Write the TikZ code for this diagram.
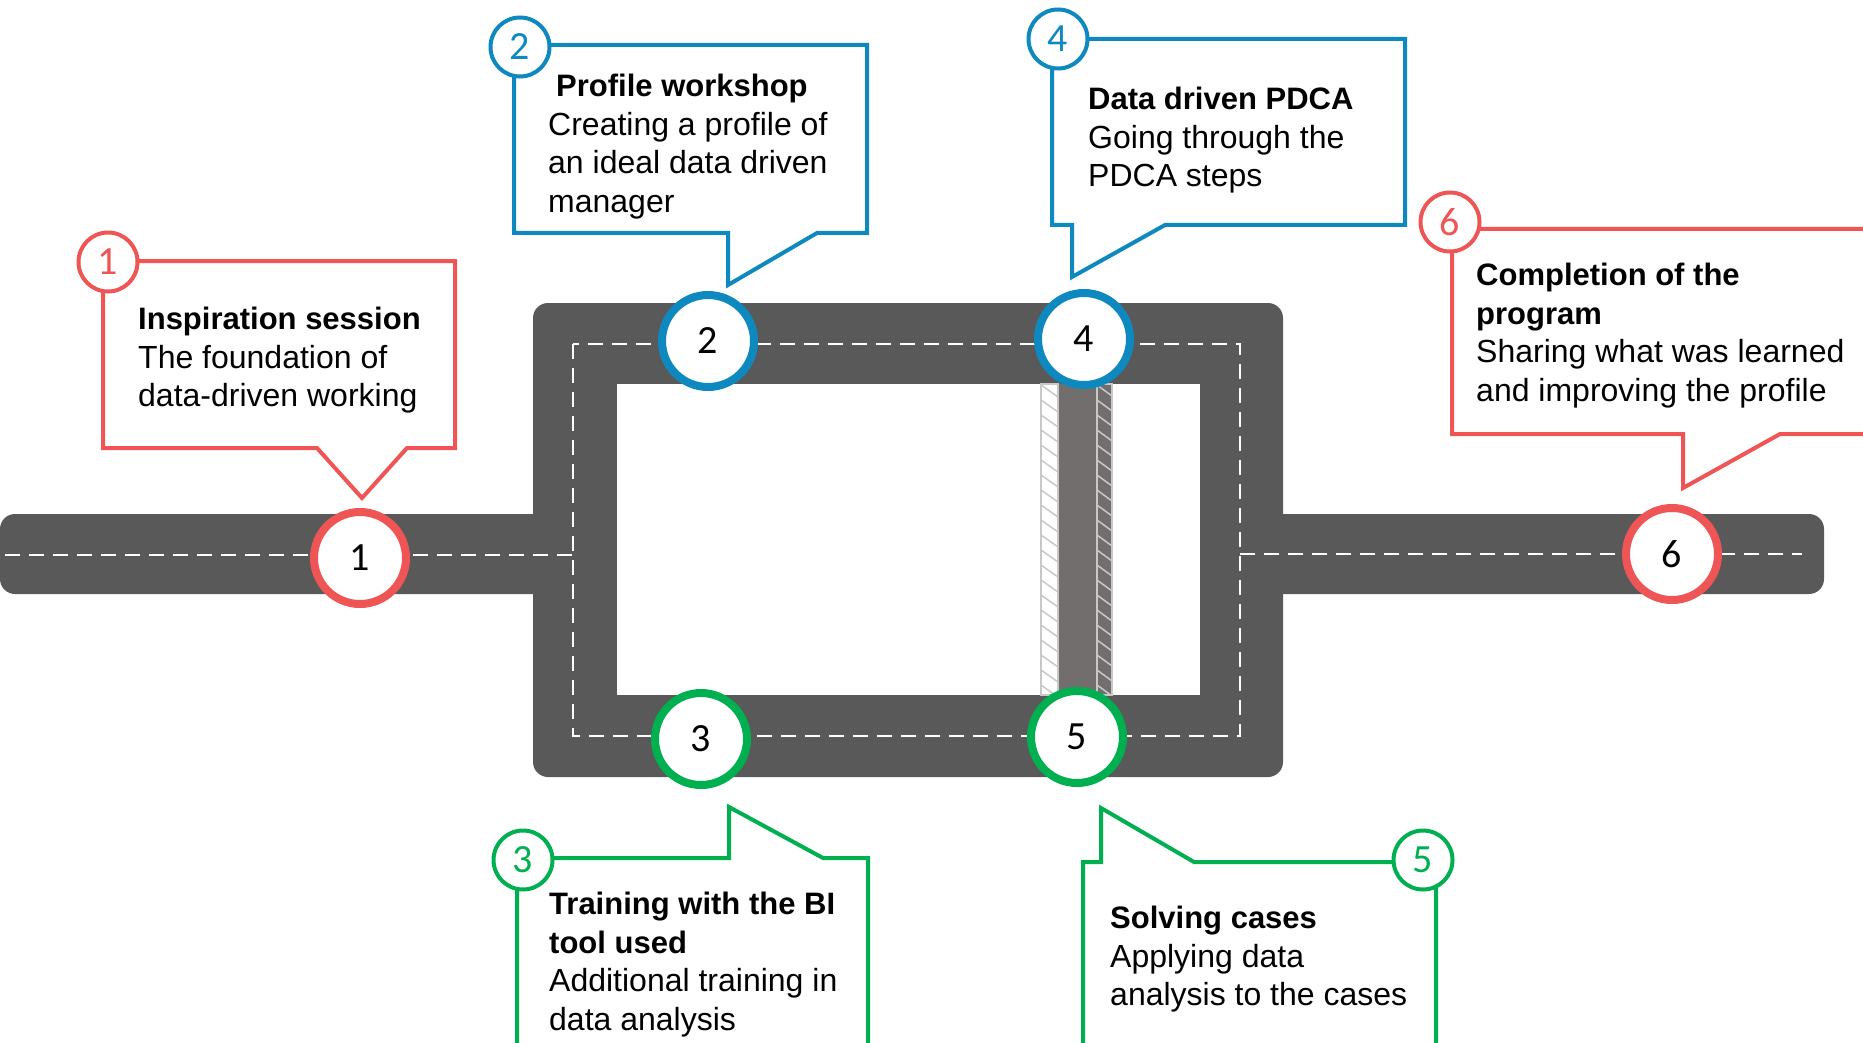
\documentclass[tikz,border=0pt]{standalone}
\usepackage{fontspec}
\setmainfont{Liberation Sans}
\newfontfamily\numfont{Carlito}
\definecolor{cred}{RGB}{240,85,85}
\definecolor{cblue}{RGB}{14,137,192}
\definecolor{cgreen}{RGB}{0,176,80}
\definecolor{road}{RGB}{89,89,89}
\definecolor{bridge}{RGB}{115,110,110}
\definecolor{hatchgray}{RGB}{200,200,200}
\begin{document}
\begin{tikzpicture}[x=1pt,y=-1pt,
  roadcirc/.style={circle, draw, line width=8pt, fill=white, minimum size=92pt, inner sep=0pt, font=\numfont\fontsize{40}{40}\selectfont},
  smallcirc/.style={circle, draw, line width=4pt, fill=white, minimum size=59pt, inner sep=0pt, font=\numfont\fontsize{40}{40}\selectfont},
  callout/.style={line width=4pt, fill=white, line join=miter},
  desc/.style={anchor=north west, inner sep=0pt, align=left, font=\fontsize{32}{38.5}\selectfont},
  ttl/.style={},
  roaddash/.style={white, line width=2.5pt, dash pattern=on 15pt off 9pt},
  hatchline/.style={hatchgray, line width=1.5pt},
  stripborder/.style={draw=hatchgray, line width=1.5pt}
]
\useasboundingbox (0,0) rectangle (1863,1043);
\clip (0,0) rectangle (1863,1043);

% road
\fill[road, rounded corners=15pt] (0,514) rectangle (560,594);
\fill[road, rounded corners=15pt] (1260,514) rectangle (1824,594);
\fill[road, rounded corners=15pt] (533,303) rectangle (1283,777);
\fill[white] (617,384) rectangle (1200,695);

% bridge
\fill[white] (1041,384) rectangle (1058,695);
\fill[bridge] (1058,384) rectangle (1112,695);
\begin{scope}
  \clip (1041,384) rectangle (1058,695);
  \foreach \y in {370,385,...,700} \draw[hatchline] (1041,\y) -- (1058,\y+12);
\end{scope}
\begin{scope}
  \clip (1097,384) rectangle (1112,695);
  \foreach \y in {370,385,...,700} \draw[hatchline] (1097,\y) -- (1112,\y+11);
\end{scope}
\draw[stripborder] (1041,384) rectangle (1058,695);
\draw[stripborder] (1097,384) rectangle (1112,695);

% dashed lane marks
\draw[roaddash] (5,555) -- (573,555);
\draw[roaddash] (573,344) rectangle (1240,736);
\draw[roaddash] (1240,554) -- (1802,554);

% stations on the road
\node[roadcirc, draw=cred]   (c1) at (360,558) {1};
\node[roadcirc, draw=cblue]  (c2) at (708,341) {2};
\node[roadcirc, draw=cgreen] (c3) at (701,739) {3};
\node[roadcirc, draw=cblue]  (c4) at (1084,339) {4};
\node[roadcirc, draw=cgreen] (c5) at (1077,737) {5};
\node[roadcirc, draw=cred]   (c6) at (1672,554) {6};

% callouts
\draw[callout, draw=cred] (103,261) -- (455,261) -- (455,448) -- (407,448) -- (362,498) -- (317,448) -- (103,448) -- cycle;
\draw[callout, draw=cblue] (514,45) -- (867,45) -- (867,233) -- (817,233) -- (728,285) -- (728,233) -- (514,233) -- cycle;
\draw[callout, draw=cblue] (1052,39) -- (1405,39) -- (1405,225) -- (1165,225) -- (1072,277) -- (1072,225) -- (1052,225) -- cycle;
\draw[callout, draw=cred] (1452,229) -- (1890,229) -- (1890,434) -- (1780,434) -- (1683,488) -- (1683,434) -- (1452,434) -- cycle;
\draw[callout, draw=cgreen] (517,1070) -- (517,858) -- (729,858) -- (729,807) -- (823,858) -- (868,858) -- (868,1070);
\draw[callout, draw=cgreen] (1083,1070) -- (1083,862) -- (1101,862) -- (1101,808) -- (1194,862) -- (1436,862) -- (1436,1070);

% small number badges
\node[smallcirc, draw=cred, text=cred]     (n1) at (108,262) {1};
\node[smallcirc, draw=cblue, text=cblue]   (n2) at (520,47) {2};
\node[smallcirc, draw=cgreen, text=cgreen] (n3) at (523,860) {3};
\node[smallcirc, draw=cblue, text=cblue]   (n4) at (1058,39) {4};
\node[smallcirc, draw=cgreen, text=cgreen] (n5) at (1423,860) {5};
\node[smallcirc, draw=cred, text=cred]     (n6) at (1450,222) {6};

% texts
\node[desc] (t1) at (138,307) {{\bfseries\fontsize{31}{38.5}\selectfont Inspiration session}\\The foundation of\\data-driven working};
\node[desc] (t2) at (548,74) {{\bfseries\fontsize{31}{38.5}\selectfont\hspace*{8pt}Profile workshop}\\Creating a profile of\\an ideal data driven\\manager};
\node[desc] (t4) at (1088,87) {{\bfseries\fontsize{31}{38.5}\selectfont Data driven PDCA}\\Going through the\\PDCA steps};
\node[desc] (t6) at (1476,263) {{\bfseries\fontsize{31}{38.5}\selectfont Completion of the}\\{\bfseries\fontsize{31}{38.5}\selectfont program}\\Sharing what was learned\\and improving the profile};
\node[desc] (t3) at (549,892) {{\bfseries\fontsize{31}{38.5}\selectfont Training with the BI}\\{\bfseries\fontsize{31}{38.5}\selectfont tool used}\\Additional training in\\data analysis};
\node[desc] (t5) at (1110,906) {{\bfseries\fontsize{31}{38.5}\selectfont Solving cases}\\Applying data\\analysis to the cases};
\end{tikzpicture}
\end{document}
